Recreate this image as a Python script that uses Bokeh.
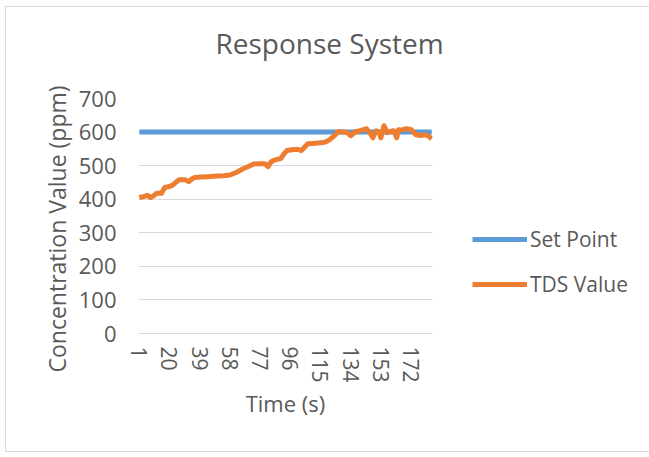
from bokeh.plotting import figure
from bokeh.models import FixedTicker, Legend, LegendItem, Range1d, Title
from bokeh.embed import file_html
from bokeh.resources import INLINE

# ---- data ----
x_ticks = [1, 20, 39, 58, 77, 96, 115, 134, 153, 172]
n_samples = 185
y_ticks = [0, 100, 200, 300, 400, 500, 600, 700]

set_time = [1, 185]
set_value = [600, 600]

tds_time = [1, 4, 6, 8, 10, 12, 15, 17, 20, 22, 24, 26, 30, 32, 34, 36, 40, 44, 50, 54,
            58, 60, 63, 66, 70, 73, 77, 80, 82, 84, 87, 90, 92, 94, 98, 101, 103, 105, 107, 110,
            115, 118, 121, 124, 126, 130, 132, 134, 137, 140, 144, 146, 148, 150, 152, 153, 155, 157, 159, 161,
            163, 164, 166, 169, 172, 175, 178, 181, 183, 185]
tds_value = [405, 408, 412, 405, 410, 418, 418, 435, 438, 442, 450, 458, 458, 452, 460, 465, 466, 467, 469, 470,
             472, 476, 482, 490, 498, 505, 506, 506, 497, 512, 518, 521, 535, 545, 548, 548, 545, 555, 565, 566,
             568, 570, 578, 590, 601, 600, 598, 589, 601, 604, 610, 598, 583, 604, 600, 583, 619, 598, 602, 604,
             583, 607, 606, 610, 608, 592, 590, 592, 588, 580]

TEXT = "#595959"
FONT = "Open Sans"

p = figure(frame_width=294, frame_height=235, output_backend="svg", toolbar_location=None,
           x_range=Range1d(0.5, n_samples + 0.5), y_range=Range1d(0, 700),
           min_border_left=132, min_border_right=212, min_border_top=91, min_border_bottom=118)
p.styles = {"border": "1px solid #d9d9d9", "margin-left": "5px", "margin-top": "6px"}
p.outline_line_color = None
p.background_fill_color = "white"
p.border_fill_color = "white"

p.title.text = "Response System\n "
p.title.align = "left"
p.title.vertical_align = "top"
p.title.text_font = FONT
p.title.text_font_size = "28px"
p.title.text_font_style = "normal"
p.title.text_line_height = 1.08
p.title.text_color = TEXT
p.title.offset = 77
p.title.standoff = -12

# grid
p.xgrid.grid_line_color = None
p.ygrid.grid_line_color = "#d9d9d9"
p.ygrid.grid_line_width = 1

# axes
p.yaxis.ticker = FixedTicker(ticks=y_ticks)
p.yaxis.axis_line_color = None
p.yaxis.major_tick_line_color = None
p.yaxis.minor_tick_line_color = None
p.yaxis.major_tick_out = 0
p.yaxis.major_label_standoff = 22
p.yaxis.major_label_text_font = FONT
p.yaxis.major_label_text_font_size = "22px"
p.yaxis.major_label_text_color = TEXT

ytitle = Title(text="Concentration Value (ppm)", align="left", offset=-39, standoff=5,
               text_font=FONT, text_font_size="23px", text_font_style="normal", text_color=TEXT)
p.add_layout(ytitle, "left")

p.xaxis.ticker = FixedTicker(ticks=x_ticks)
p.xaxis.axis_line_color = "#d9d9d9"
p.xaxis.major_tick_line_color = None
p.xaxis.minor_tick_line_color = None
p.xaxis.major_tick_out = 0
p.xaxis.major_label_orientation = "vertical"
p.xaxis.major_label_standoff = 13
p.xaxis.major_label_text_font = FONT
p.xaxis.major_label_text_font_size = "21px"
p.xaxis.major_label_text_color = TEXT
p.xaxis.axis_label = "Time (s)"
p.xaxis.axis_label_text_font = FONT
p.xaxis.axis_label_text_font_size = "22px"
p.xaxis.axis_label_text_font_style = "normal"
p.xaxis.axis_label_text_color = TEXT
p.xaxis.axis_label_standoff = 2

sp = p.line(set_time, set_value, line_color="#5B9BD5", line_width=5)
tds = p.line(tds_time, tds_value, line_color="#ED7D31", line_width=5, line_join="round")

legend = Legend(items=[LegendItem(label="Set Point", renderers=[sp]),
                       LegendItem(label="TDS Value", renderers=[tds])],
                location=(40, 35), orientation="vertical",
                padding=0, margin=0, spacing=17, glyph_width=55, glyph_height=20,
                label_height=20, label_standoff=3,
                label_text_font=FONT, label_text_font_size="21px", label_text_color=TEXT,
                border_line_color=None, background_fill_alpha=0)
p.add_layout(legend, "right")

open("out.html", "w").write(file_html(p, INLINE))
